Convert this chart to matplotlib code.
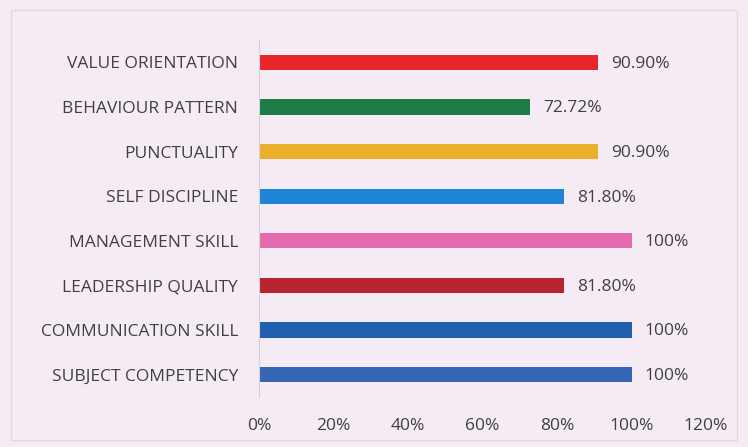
import matplotlib.pyplot as plt
from matplotlib.patches import Rectangle

categories = [
    "SUBJECT COMPETENCY",
    "COMMUNICATION SKILL",
    "LEADERSHIP QUALITY",
    "MANAGEMENT SKILL",
    "SELF DISCIPLINE",
    "PUNCTUALITY",
    "BEHAVIOUR PATTERN",
    "VALUE ORIENTATION",
]
values = [100, 100, 81.80, 100, 81.80, 90.90, 72.72, 90.90]
value_labels = ["100%", "100%", "81.80%", "100%", "81.80%", "90.90%", "72.72%", "90.90%"]
colors = ["#3566B5", "#1F5FAE", "#B72430", "#E36BAE", "#1C85D6", "#EBB02B", "#1E7B45", "#E8262A"]
x_ticks = [0, 20, 40, 60, 80, 100, 120]
x_tick_labels = ["0%", "20%", "40%", "60%", "80%", "100%", "120%"]

plt.rcParams["font.family"] = ["Open Sans", "DejaVu Sans"]

bg = "#F5EBF5"
text_color = "#404040"
fs = 12.5

fig = plt.figure(figsize=(7.48, 4.47), dpi=100, facecolor=bg)
ax = fig.add_axes([259 / 748, 1 - 397 / 447, (706 - 259) / 748, (397 - 40) / 447])
ax.set_facecolor(bg)

y = list(range(len(categories)))
ax.barh(y, values, height=0.34, color=colors)

# value labels sit just right of each bar, a touch below its centre line
for yi, v, lab in zip(y, values, value_labels):
    ax.text(v + 3.5, yi - 0.03, lab, va="center", ha="left", fontsize=fs, color=text_color)

ax.set_xlim(0, 120)
ax.set_ylim(-0.5, len(categories) - 0.5)
ax.set_yticks(y)
ax.set_yticklabels(categories, fontsize=fs, color=text_color)
ax.set_xticks(x_ticks)
ax.set_xticklabels(x_tick_labels, fontsize=fs, color=text_color)
ax.tick_params(axis="both", length=0)
ax.tick_params(axis="y", pad=15)
ax.tick_params(axis="x", pad=15)

for side in ["top", "right", "bottom"]:
    ax.spines[side].set_visible(False)
ax.spines["left"].set_color("#D9D0D9")
ax.spines["left"].set_linewidth(0.8)

# faint outer frame of the chart area
fig.patches.append(Rectangle((11 / 748, 7 / 447), 1 - 22 / 748, 1 - 17 / 447,
                             transform=fig.transFigure, fill=False,
                             edgecolor="#E2D8E2", linewidth=1.0))

fig.savefig("out.png", dpi=100, facecolor=bg)
